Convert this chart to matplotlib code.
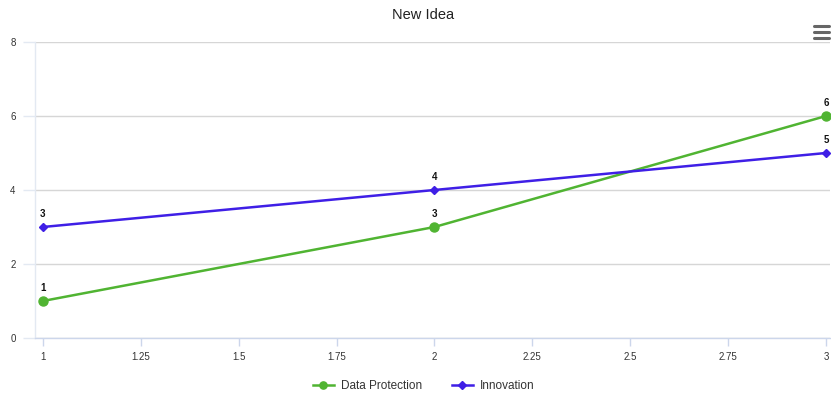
import matplotlib
matplotlib.use("Agg")
import matplotlib.pyplot as plt
from matplotlib.lines import Line2D

plt.rcParams['font.family'] = ['Liberation Sans', 'DejaVu Sans']

x_values = [1, 2, 3]
data_protection = [1, 3, 6]
innovation = [3, 4, 5]
x_ticks = [1, 1.25, 1.5, 1.75, 2, 2.25, 2.5, 2.75, 3]
x_tick_labels = ["1", "1.25", "1.5", "1.75", "2", "2.25", "2.5", "2.75", "3"]
y_ticks = [0, 2, 4, 6, 8]

green = "#50B432"
blue = "#3F1FE6"

fig = plt.figure(figsize=(8.31, 3.95), dpi=100)
ax = fig.add_axes([0.0421, 0.1443, 0.9567, 0.7494])

ax.plot(x_values, data_protection, color=green, lw=1.8, marker="o", ms=6.5,
        label="Data Protection", zorder=3, clip_on=False)
ax.plot(x_values, innovation, color=blue, lw=1.8, marker="D", ms=4.5,
        label="Innovation", zorder=4, clip_on=False)

for xs, ys in ((x_values, data_protection), (x_values, innovation)):
    for xv, yv in zip(xs, ys):
        ax.annotate(str(yv), (xv, yv), xytext=(0, 6), textcoords="offset points",
                    ha="center", va="bottom", fontsize=7, fontweight="bold",
                    color="#111111", zorder=5)

ax.set_xlim(0.98, 3.01)
ax.set_ylim(0, 8)
ax.set_xticks(x_ticks)
ax.set_xticklabels(x_tick_labels)
ax.set_yticks(y_ticks)

ax.grid(axis="y", color="#d6d6d6", lw=1)
ax.set_axisbelow(True)
for side in ("top", "right"):
    ax.spines[side].set_visible(False)
ax.spines["left"].set_color("#e3e9f2")
ax.spines["bottom"].set_color("#ccd6eb")
ax.spines["left"].set_linewidth(1)
ax.spines["bottom"].set_linewidth(1)

ax.tick_params(axis="x", colors="#ccd6eb", labelcolor="#333333", labelsize=7,
               length=6, width=1, pad=4)
ax.tick_params(axis="y", colors="#e3e9f2", labelcolor="#333333", labelsize=7,
               length=9, width=1, pad=5)

fig.text(0.509, 0.962, "New Idea", ha="center", va="center", fontsize=10.5, color="#222222")

# menu icon
for yy in (0.935, 0.920, 0.905):
    fig.add_artist(Line2D([0.980, 0.997], [yy, yy], color="#666666", lw=2.2,
                          solid_capstyle="round", transform=fig.transFigure))

leg = fig.legend(loc="center", bbox_to_anchor=(0.51, 0.022), ncol=2, frameon=False,
                 fontsize=8.5, handlelength=1.8, columnspacing=2.5, handletextpad=0.6,
                 markerscale=0.8)
for t in leg.get_texts():
    t.set_color("#333333")

fig.savefig("out.png", dpi=100, facecolor="white")
